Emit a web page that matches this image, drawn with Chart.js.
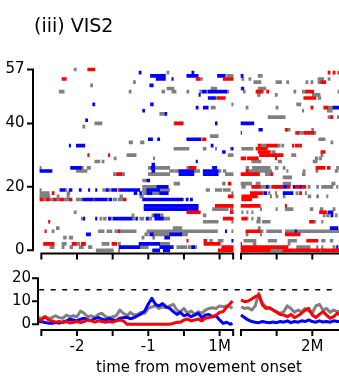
<!DOCTYPE html>
<html><head><meta charset="utf-8">
<script src="https://cdn.jsdelivr.net/npm/chart.js@4.4.1/dist/chart.umd.min.js"></script>
<style>
html,body{margin:0;padding:0;background:#fff;overflow:hidden;width:339px;height:377px;}
canvas{position:absolute;left:0;}
#c1{top:0;width:360px;height:262px;}
#c2{top:262px;width:360px;height:115px;}
#title{position:absolute;left:34px;top:16px;font-family:"DejaVu Sans",sans-serif;font-size:19px;line-height:19px;color:#000;white-space:nowrap;}
</style></head><body>
<canvas id="c1" width="360" height="262"></canvas>
<canvas id="c2" width="360" height="115"></canvas>
<div id="title">(iii) VIS2</div>
<script>
// ---------- data ----------
// raster segments: [trial row, start (s), end (s)]; "Pre" relative to 1M, "Post" relative to 2M
const grayPre = [[57,-2.04,-2.01],[52,-1.81,-1.78],[50,-2.25,-2.18],[40,-1.75,-1.65],[39,-1.92,-1.89],[56,-0.74,-0.71],[53,-1.21,-1.18],[50,-1.27,-1.24],[50,-0.81,-0.77],[51,-0.74,-0.70],[43,-0.84,-0.78],
[55,0.10,0.19],[54,-0.28,-0.24],[51,-0.70,-0.64],[51,-0.12,-0.04],[50,-0.67,-0.61],[50,-0.46,-0.43],[50,-0.28,-0.24],[50,-0.19,-0.16],[50,0.10,0.13],[48,-0.06,-0.03],[46,0.17,0.19],[45,-0.12,-0.06],[40,-0.64,-0.61],[40,-0.56,-0.53],[40,-0.05,-0.03],[36,-0.13,-0.02],[32,-0.64,-0.43],[32,-0.23,-0.19],[32,-0.06,-0.04],[32,0.15,0.17],[30,0.12,0.19],[26,-0.46,-0.43],[25,-0.70,-0.64],[25,-0.63,-0.57],[25,-0.36,-0.28],[25,-0.02,0.02],[25,0.05,0.09],[24,0.08,0.19],
[34,-1.27,-1.22],[34,-1.11,-1.06],[30,-1.30,-1.17],[29,-1.48,-1.45],[29,-0.93,-0.91],[28,-1.75,-1.68],[28,-1.65,-1.62],[26,-2.52,-2.50],[26,-1.94,-1.91],[26,-1.86,-1.81],[26,-1.00,-0.96],[26,-0.91,-0.70],[25,-2.01,-1.86],[24,-1.49,-1.44],[24,-1.37,-1.33],[24,-1.00,-0.70],[22,-1.08,-1.02],[21,-0.64,-0.56],[21,0.04,0.08],[20,-1.08,-0.88],
[19,-2.52,-2.50],[19,-2.17,-2.14],[19,-1.64,-1.59],[19,-1.56,-1.51],[19,-1.08,-1.02],[19,-0.83,-0.70],[19,-0.19,-0.14],[19,-0.06,0.03],[19,0.05,0.15],
[18,-2.52,-2.39],[18,-2.14,-2.10],[18,-1.07,-1.02],[18,-0.95,-0.84],[18,0.17,0.19],
[17,-2.52,-2.38],[17,-2.28,-2.25],[17,-2.14,-2.11],[17,-1.40,-1.36],[17,-1.12,-1.07],
[16,-2.48,-2.43],[16,-2.39,-2.33],[16,-2.29,-2.24],[16,-2.19,-2.12],[16,-2.01,-1.92],[16,-1.77,-1.75],[16,-1.58,-1.56],[16,-1.49,-1.44],[16,-1.42,-1.36],
[13,-0.10,0.12],[13,0.15,0.19],[12,-2.04,-2.01],
[11,-1.23,-1.20],[11,-0.95,-0.92],[11,-0.84,-0.79],[11,-0.23,-0.19],
[10,-1.94,-1.91],[10,-1.68,-1.65],[10,-1.63,-1.59],[10,-1.53,-1.49],[10,-1.23,-1.17],[10,-1.12,-1.06],[10,-1.00,-0.95],[10,-0.79,-0.70],
[9,-0.23,-0.02],[9,0.17,0.19],[7,-0.65,-0.53],[7,-2.29,-2.25],
[6,-0.70,-0.03],[6,0.17,0.19],[6,-2.35,-2.32],[6,-1.70,-1.62],[6,-1.58,-1.51],[6,-1.47,-1.17],[6,-1.02,-0.70],
[5,-1.05,-1.00],[5,-0.93,-0.70],[5,-0.53,-0.45],
[4,-2.19,-2.15],[4,-2.11,-2.06],[4,-1.09,-1.06],[4,-0.94,-0.91],
[3,-0.14,-0.10],[3,-0.02,0.05],
[2,-2.21,-2.15],[2,-2.01,-1.96],[2,-1.65,-1.55],[2,-1.42,-1.39],[2,-0.84,-0.70],
[1,-2.38,-2.32],[1,-2.21,-2.18],[1,-2.10,-2.06],[1,-1.97,-1.91],[1,-1.84,-1.79],[1,-1.12,-1.00],[1,-0.60,-0.46],[1,-0.44,-0.39],[1,-0.35,-0.32],
[0,-1.73,-1.49],[0,-1.42,-1.40]];
const bluePre = [[46,-1.78,-1.75],[41,-1.88,-1.85],[56,-1.13,-1.10],[55,-0.97,-0.76],[54,-0.89,-0.76],[52,-0.98,-0.93],[46,-0.97,-0.93],[44,-1.08,-1.05],[43,-0.77,-0.74],
[56,-0.39,-0.36],[55,-0.46,-0.30],[55,-0.03,0.08],[54,-0.67,-0.65],[50,-0.24,-0.19],[50,-0.16,0.10],[49,-0.29,-0.27],[48,-0.16,-0.06],[45,-0.33,-0.30],[45,-0.23,-0.16],[40,-0.06,-0.04],[35,-0.46,-0.26],[33,-0.12,-0.09],[32,0.17,0.19],[31,0.04,0.08],[28,-0.33,-0.31],[26,-0.10,-0.04],[25,-0.57,-0.36],[25,-0.23,-0.02],[24,-0.57,-0.36],[24,-0.23,-0.02],
[35,-1.00,-0.94],[35,-0.87,-0.84],[33,-2.11,-2.09],[33,-2.01,-1.89],[27,-0.95,-0.91],[26,-2.09,-1.94],[26,-0.96,-0.91],[25,-2.52,-2.35],[25,-0.95,-0.91],[22,-1.02,-0.98],[20,-0.88,-0.72],
[19,-2.24,-2.17],[19,-2.11,-2.07],[19,-1.97,-1.94],[19,-1.84,-1.82],[19,-1.74,-1.72],[19,-1.59,-1.56],[19,-1.51,-1.44],[19,-1.40,-1.12],[19,-1.02,-0.84],
[18,-1.20,-1.16],[18,-1.12,-1.09],[18,-1.02,-0.95],[18,-0.84,-0.72],
[16,-1.92,-1.77],[16,-1.75,-1.58],[16,-1.55,-1.51],[16,-1.08,-0.51],[16,-0.47,-0.44],[16,-0.41,-0.38],
[14,-1.06,-0.30],[13,-1.06,-0.30],[11,-0.92,-0.84],
[10,-1.91,-1.89],[10,-1.74,-1.72],[10,-1.56,-1.53],[10,-1.49,-1.23],[10,-1.17,-1.15],[10,-1.03,-1.00],[10,-0.91,-0.79],
[6,0.08,0.10],[5,-1.87,-1.81],[5,-0.98,-0.93],[5,-0.70,-0.53],[4,-0.77,-0.70],[3,0.17,0.19],[2,-1.13,-0.84],
[1,-1.41,-1.12],[1,-0.84,-0.65],[1,-0.39,-0.35],[0,-0.94,-0.84],[0,-0.79,-0.70]];
const redPre = [[57,-1.85,-1.75],[54,-2.21,-2.15],[54,-0.33,-0.28],[54,0.05,0.19],[48,-0.03,0.08],[40,-0.63,-0.51],[35,-0.24,-0.19],[30,-1.85,-1.83],[30,-1.56,-1.54],[26,-0.43,-0.33],[24,-1.44,-1.37],[21,0.12,0.16],[19,-1.42,-1.40],[18,-2.35,-2.32],[17,0.12,0.19],
[16,-2.52,-2.48],[16,-2.43,-2.39],[16,-2.33,-2.29],[16,-2.24,-2.19],[16,-2.11,-2.07],[16,-1.35,-1.31],
[14,-0.06,0.19],[12,-0.46,-0.27],[12,0.15,0.19],[10,0.05,0.19],[9,-2.40,-2.38],[6,-2.45,-2.43],[6,-1.42,-1.40],
[3,-0.46,-0.44],[3,-0.22,-0.18],[2,-2.47,-2.32],[2,-2.07,-2.01],[2,-1.94,-1.88],[2,-1.51,-1.44],[2,-0.22,0.01],[1,0.03,0.19],[0,-0.02,0.19]];
const grayPost = [[54,-0.99,-0.96],[54,-0.89,-0.86],[54,0.08,0.16],[54,0.22,0.25],[55,-0.76,-0.70],
[53,-0.82,-0.72],[53,-0.51,-0.43],[53,-0.36,-0.33],[53,-0.09,-0.06],[53,-0.02,0.01],[53,0.08,0.12],
[51,-1.00,-0.99],[51,-0.76,-0.65],[50,-0.97,-0.94],[50,-0.26,-0.23],[50,-0.14,-0.09],[50,0.36,0.39],
[49,-0.77,-0.73],[49,-0.52,-0.49],[49,0.00,0.11],[48,0.08,0.12],[46,-0.22,-0.16],
[45,-0.93,-0.90],[45,-0.51,-0.48],[45,0.21,0.29],[44,-0.14,-0.12],[44,0.21,0.28],
[42,-0.62,-0.38],[42,0.22,0.26],[42,0.35,0.37],[38,-0.36,-0.31],[38,-0.01,0.02],
[37,-0.24,-0.22],[37,-0.19,-0.11],[37,0.02,0.05],[35,0.09,0.18],[34,0.26,0.29],
[33,-0.74,-0.64],[33,-0.49,-0.45],[33,-0.43,-0.40],[32,-0.99,-0.83],[32,-0.77,-0.73],[31,-0.57,-0.52],
[30,-0.29,-0.23],[30,0.12,0.15],[29,-0.79,-0.76],[29,0.04,0.08],[29,0.10,0.13],
[28,-0.85,-0.72],[28,-0.48,-0.43],[28,0.01,0.07],
[26,-0.93,-0.89],[26,-0.84,-0.59],[26,-0.52,-0.48],[26,-0.41,-0.38],[26,0.34,0.37],
[25,-0.90,-0.57],[25,-0.36,-0.34],[25,-0.13,-0.10],[25,0.05,0.08],[25,0.32,0.36],
[24,-0.90,-0.80],[24,-0.66,-0.55],[24,-0.14,-0.10],[23,-0.41,-0.29],
[21,-1.00,-0.85],[21,-0.79,-0.73],[21,-0.41,-0.30],[21,0.27,0.32],
[20,-0.99,-0.94],[20,-0.73,-0.66],[20,-0.62,-0.59],[20,-0.06,-0.03],[20,0.06,0.09],[20,0.13,0.29],[20,0.34,0.36],
[18,-0.62,-0.59],[18,-0.52,-0.50],[18,-0.23,-0.20],[18,-0.10,-0.08],
[17,-0.78,-0.76],[17,-0.59,-0.57],[17,-0.51,-0.48],[17,-0.41,-0.38],[17,-0.06,-0.02],[17,0.06,0.09],[17,0.20,0.22],
[13,-0.73,-0.71],[13,-0.51,-0.49],[13,-0.38,-0.27],[13,-0.03,0.01],[13,0.11,0.15],[13,0.29,0.32],
[12,-0.99,-0.97],[12,-0.92,-0.90],[12,-0.85,-0.83],[12,0.15,0.18],
[11,0.15,0.18],[11,0.20,0.24],[11,0.32,0.35],
[10,-0.92,-0.90],[10,-0.85,-0.83],[10,-0.77,-0.73],
[9,-0.78,-0.73],[9,-0.70,-0.59],[9,0.01,0.05],[9,0.13,0.15],
[7,-0.76,-0.73],[6,-0.73,-0.69],[6,-0.64,-0.43],[6,-0.38,0.39],
[5,-0.93,-0.90],[5,-0.73,-0.71],
[3,-0.96,-0.79],[3,-0.62,-0.50],[3,-0.34,-0.22],[3,0.13,0.18],[3,0.25,0.29],
[2,-0.83,-0.79],[2,-0.34,-0.31],
[1,-0.22,-0.03],[1,0.06,0.08],[1,0.13,0.15],[1,0.29,0.32],
[0,-0.59,-0.41],[0,0.11,0.13]];
const bluePost = [[55,-1.00,-0.97],[51,-0.99,-0.96],[45,0.29,0.39],[40,-1.00,-0.82],[38,-0.75,-0.70],
[20,-0.65,-0.62],[20,-0.51,-0.49],[20,-0.41,-0.36],[20,-0.27,-0.24],[20,-0.18,-0.15],
[18,-0.68,-0.64],[18,-0.41,-0.27],[12,0.22,0.29],[11,0.26,0.29],[7,0.25,0.36],[6,-0.24,-0.22],[1,0.34,0.36]];
const redPost = [[56,0.22,0.25],[56,0.29,0.32],[56,0.36,0.39],[53,0.12,0.19],
[50,-0.79,-0.69],[50,-0.64,-0.61],[50,-0.09,0.02],[48,-0.12,0.05],[45,-0.02,0.01],[45,0.16,0.22],[42,0.26,0.29],
[38,-0.38,-0.35],[37,-1.00,-0.99],[37,-0.22,-0.19],[37,-0.11,0.02],
[33,-0.76,-0.73],[33,-0.64,-0.49],[33,-0.28,-0.26],[33,-0.24,-0.18],[33,-0.17,-0.15],
[32,-0.79,-0.77],[32,-0.75,-0.63],[31,-0.76,-0.59],[31,0.12,0.18],[30,-0.74,-0.41],
[29,-1.00,-0.93],[29,-0.91,-0.76],[29,-0.52,-0.50],[26,0.05,0.18],[26,0.21,0.25],[25,-0.93,-0.90],
[24,-1.00,-0.74],[24,-0.58,-0.56],
[20,-0.85,-0.73],[20,-0.57,-0.41],[20,-0.35,-0.31],[20,-0.24,-0.19],[20,-0.15,-0.09],
[18,-0.87,-0.69],[18,-0.18,-0.15],[17,-0.99,-0.78],[16,-0.99,-0.85],[14,-1.00,-0.73],[14,-0.38,-0.36],
[12,0.10,0.20],[10,-0.99,-0.92],[9,-0.04,0.02],[6,-0.93,-0.73],[5,-0.38,-0.17],[3,-0.08,0.08],[2,-1.00,-0.99],
[1,-1.00,-0.34],[0,-1.00,-0.59],[0,-0.41,0.11],[0,0.13,0.39]];

// rate traces
const timePre = [-2.55,-2.50,-2.45,-2.40,-2.35,-2.30,-2.25,-2.20,-2.15,-2.10,-2.05,-2.00,-1.95,-1.90,-1.85,-1.80,-1.75,-1.70,-1.65,-1.60,-1.55,-1.50,-1.45,-1.40,-1.35,-1.30,-1.25,-1.20,-1.15,-1.10,-1.05,-1.00,-0.95,-0.90,-0.85,-0.80,-0.75,-0.70,-0.65,-0.60,-0.55,-0.50,-0.45,-0.40,-0.35,-0.30,-0.25,-0.20,-0.15,-0.10,-0.05,0.00,0.05,0.10,0.15,0.18];
const grayRatePre = [3.0,2.6,3.3,2.6,2.9,3.7,2.9,2.6,4.0,3.3,3.7,3.3,5.8,4.8,3.3,3.7,2.9,4.3,4.8,3.3,2.9,3.3,3.7,6.2,4.8,3.7,5.2,4.0,4.3,5.2,4.8,6.9,7.6,8.0,6.9,7.6,7.2,8.0,8.7,6.2,5.5,6.9,4.8,5.8,4.3,5.5,4.8,6.2,6.9,7.2,6.9,8.0,7.6,8.0,7.6,6.9];
const blueRatePre = [1.0,1.2,0.8,0.5,0.4,0.8,0.5,1.0,1.5,2.2,1.9,1.5,2.2,2.6,2.0,1.6,2.5,2.9,2.2,1.9,2.4,2.0,1.6,2.6,2.9,3.1,2.4,2.9,3.7,4.5,5.8,8.8,11.3,8.7,8.0,9.0,7.6,6.9,5.5,4.3,5.2,3.7,4.3,3.3,4.0,4.8,2.9,4.0,4.3,3.3,3.7,1.9,0.4,0.9,0.0,0.4];
const redRatePre = [1.9,1.9,3.3,1.9,1.5,0.9,1.2,0.7,1.2,0.6,0.9,1.2,0.7,1.2,1.9,1.5,0.9,1.5,1.2,0.9,1.2,0.9,1.5,1.9,1.5,0.0,0.0,0.0,0.0,0.0,0.0,0.0,0.0,0.0,0.0,0.0,0.0,0.0,0.4,0.9,0.9,1.9,2.3,1.5,1.9,2.3,1.5,2.6,2.9,3.3,4.0,5.2,5.5,7.6,9.0,10.1];
const timePost = [-1.00,-0.95,-0.90,-0.85,-0.80,-0.75,-0.70,-0.65,-0.60,-0.55,-0.50,-0.45,-0.40,-0.35,-0.30,-0.25,-0.20,-0.15,-0.10,-0.05,0.00,0.05,0.10,0.15,0.20,0.25,0.30,0.35,0.40];
const grayRatePost = [7.6,6.9,7.2,6.2,8.0,13.5,9.1,7.6,6.9,6.2,5.5,4.8,5.5,8.0,6.9,5.2,6.2,5.5,6.9,5.8,4.8,8.0,8.7,6.2,6.9,5.2,6.2,5.5,5.8];
const blueRatePost = [4.0,2.9,1.9,1.2,0.9,0.7,1.2,0.9,0.7,1.0,0.7,1.2,0.9,1.5,0.7,1.2,0.9,1.5,1.2,1.9,1.2,0.9,1.5,1.0,1.2,0.9,1.5,1.2,1.2];
const redRatePost = [10.6,9.8,10.1,11.0,12.0,12.7,8.4,6.9,7.2,6.2,5.2,4.3,4.0,3.3,4.3,2.9,3.7,4.8,6.2,6.9,4.0,2.9,4.3,5.5,4.0,2.6,3.3,4.8,4.0];
const threshold = 15;

// axes
const rowTicks = [0, 20, 40, 57];
const rateTicks = [0, 10, 20];
const tickPre = [-2.5, -2, -1.5, -1, -0.5, 0, 0.19];
const tickPost = [-1.0, -0.5, 0];
const tickLabels = [[-2, '-2', 'pre'], [-1, '-1', 'pre'], [0, '1M', 'pre'], [0, '2M', 'post']];

// ---------- layout of the broken time axis ----------
const M2_SHIFT = 1.3;          // where 2M sits on the shared time axis
const X_MIN = -2.547, X_MAX = 1.969;
const SEG1_END = 0.19, SEG2_START = -1.0;
const COLORS = {gray: '#808080', blue: '#0000ff', red: '#ff0000'};

Chart.defaults.font.family = '"DejaVu Sans", sans-serif';
Chart.defaults.color = '#000';

const xTickValues = tickPre.concat(tickPost.map(v => v + M2_SHIFT));
function labelFor(v) {
  for (const [p, txt, seg] of tickLabels) {
    const u = seg === 'post' ? p + M2_SHIFT : p;
    if (Math.abs(u - v) < 1e-6) return txt;
  }
  return '';
}

const brokenAxes = {
  id: 'brokenAxes',
  afterDraw(chart, args, o) {
    const {ctx, chartArea} = chart;
    const x = chart.scales.x, y = chart.scales.y;
    ctx.save();
    ctx.strokeStyle = '#000';
    ctx.lineWidth = 2;
    ctx.lineCap = 'square';
    const yb = chartArea.bottom;
    ctx.beginPath();
    const segs = [[tickPre[0], SEG1_END], [SEG2_START + M2_SHIFT, X_MAX]];
    for (const [a, b] of segs) {
      ctx.moveTo(x.getPixelForValue(a), yb);
      ctx.lineTo(x.getPixelForValue(b), yb);
    }
    for (const v of xTickValues) {
      const px = x.getPixelForValue(v);
      ctx.moveTo(px, yb);
      ctx.lineTo(px, yb + 5);
    }
    const xa = chartArea.left - o.yOffset;
    ctx.moveTo(xa, y.getPixelForValue(o.yTicks[0]));
    ctx.lineTo(xa, y.getPixelForValue(o.yTicks[o.yTicks.length - 1]));
    for (const v of o.yTicks) {
      const py = y.getPixelForValue(v);
      ctx.moveTo(xa, py);
      ctx.lineTo(xa - 5, py);
    }
    ctx.stroke();
    ctx.restore();
  }
};

function bars(pre, post) {
  return pre.map(([r, a, b]) => ({y: r, x: [a, b]}))
    .concat(post.map(([r, a, b]) => ({y: r, x: [a + M2_SHIFT, b + M2_SHIFT]})));
}
function trace(pre, post) {
  const pts = timePre.map((t, i) => ({x: t, y: pre[i]}));
  pts.push({x: (SEG1_END + SEG2_START + M2_SHIFT) / 2, y: null});
  return pts.concat(timePost.map((t, i) => ({x: t + M2_SHIFT, y: post[i]})));
}
const noPad = s => { s.paddingTop = 0; s.paddingBottom = 0; s.paddingLeft = 0; s.paddingRight = 0; };
const fixY = s => { s.width = 38; noPad(s); };
const hiddenGrid = {display: false, drawTicks: false, tickLength: 0};

// ---------- raster ----------
const barDs = (data, color) => ({data, backgroundColor: color, borderWidth: 0, borderSkipped: false, barThickness: 3, grouped: false});
new Chart(document.getElementById('c1'), {
  type: 'bar',
  data: {datasets: [
    barDs(bars(redPre, redPost), COLORS.red),
    barDs(bars(bluePre, bluePost), COLORS.blue),
    barDs(bars(grayPre, grayPost), COLORS.gray)
  ]},
  options: {
    indexAxis: 'y', responsive: false, animation: false, devicePixelRatio: 1,
    layout: {autoPadding: false, padding: {top: 64, bottom: 8.5, left: 0, right: 0}},
    plugins: {legend: {display: false}, tooltip: {enabled: false}, title: {display: false},
      brokenAxes: {yOffset: 5, yTicks: rowTicks}},
    scales: {
      x: {type: 'linear', min: X_MIN, max: X_MAX, display: false, offset: false, afterFit: noPad},
      y: {type: 'linear', min: -1.01, max: 58.73, offset: false,
        grid: hiddenGrid, border: {display: false},
        afterBuildTicks: s => { s.ticks = rowTicks.map(v => ({value: v})); },
        afterFit: fixY,
        ticks: {font: {size: 15}, color: '#000', padding: 13.5}}
    }
  },
  plugins: [brokenAxes]
});

// ---------- rates ----------
const lineDs = (data, color) => ({data, borderColor: color, borderWidth: 3, pointRadius: 0, tension: 0, spanGaps: false, borderJoinStyle: 'round', fill: false});
new Chart(document.getElementById('c2'), {
  type: 'line',
  data: {datasets: [
    lineDs(trace(redRatePre, redRatePost), COLORS.red),
    lineDs(trace(blueRatePre, blueRatePost), COLORS.blue),
    lineDs(trace(grayRatePre, grayRatePost), COLORS.gray),
    {data: [{x: -2.53, y: threshold}, {x: 1.59, y: threshold}], borderColor: '#000', borderWidth: 1.5, borderDash: [5, 6.5], pointRadius: 0, fill: false}
  ]},
  options: {
    responsive: false, animation: false, devicePixelRatio: 1,
    layout: {autoPadding: false, padding: {top: 13, bottom: 0, left: 0, right: 0}},
    plugins: {legend: {display: false}, tooltip: {enabled: false},
      brokenAxes: {yOffset: 0, yTicks: rateTicks}},
    scales: {
      x: {type: 'linear', min: X_MIN, max: X_MAX, offset: false,
        grid: hiddenGrid, border: {display: false},
        afterBuildTicks: s => { s.ticks = xTickValues.map(v => ({value: v})); },
        afterFit: s => { s.height = 47; noPad(s); },
        ticks: {font: {size: 15}, color: '#000', padding: 8, maxRotation: 0, autoSkip: false, callback: v => labelFor(v)},
        title: {display: true, text: 'time from movement onset', font: {size: 15}, color: '#000', padding: {top: 0, bottom: 0}}},
      y: {type: 'linear', min: -2.48, max: 21.43, offset: false,
        grid: hiddenGrid, border: {display: false},
        afterBuildTicks: s => { s.ticks = rateTicks.map(v => ({value: v})); },
        afterFit: fixY,
        ticks: {font: {size: 15}, color: '#000', padding: 7}}
    }
  },
  plugins: [brokenAxes]
});
</script>
</body></html>
